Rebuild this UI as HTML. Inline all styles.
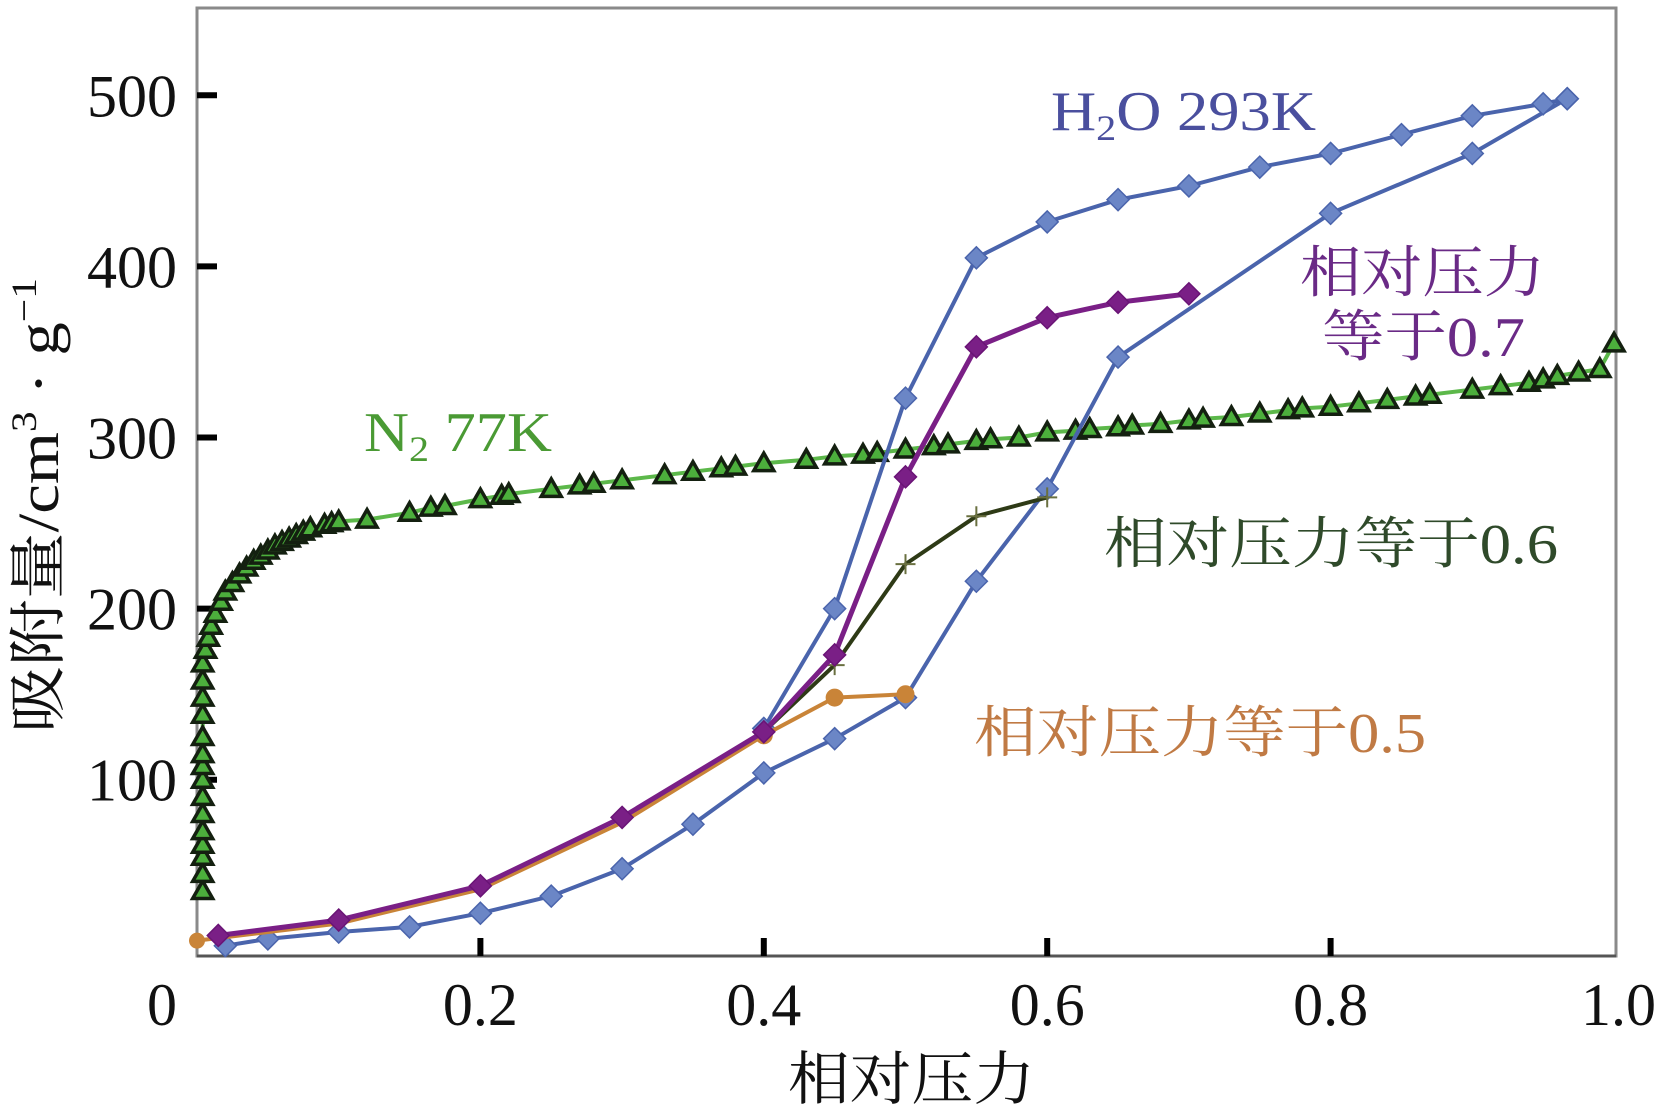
<!DOCTYPE html>
<html><head><meta charset="utf-8"><style>
html,body{margin:0;padding:0;background:#fff;}
svg{display:block;}
text{font-family:"Liberation Serif","Noto Serif CJK SC",serif;}
</style></head><body>
<svg id="chart" width="1656" height="1111" viewBox="0 0 1656 1111" xmlns="http://www.w3.org/2000/svg">
<g id="plot"></g>
</svg>
<script>
const xTicks=[0.2,0.4,0.6,0.8];
const xTickLabels=["0","0.2","0.4","0.6","0.8","1.0"];
const xLabelVals=[0,0.2,0.4,0.6,0.8,1.0];
const yTicks=[100,200,300,400,500];
const yTickLabels=["100","200","300","400","500"];
const h2oAdsX=[0.02,0.05,0.1,0.15,0.2,0.25,0.3,0.35,0.4,0.45,0.5,0.55,0.6,0.65,0.8,0.9,0.967];
const h2oAdsY=[3,7,11,14,22,32,48,74,104,124,148,216,270,347,431,466,498];
const h2oDesX=[0.967,0.95,0.9,0.85,0.8,0.75,0.7,0.65,0.6,0.55,0.5,0.45,0.4];
const h2oDesY=[498,495,488,477,466,458,447,439,426,405,323,200,130];
const p07X=[0.015,0.1,0.2,0.3,0.4,0.45,0.5,0.55,0.6,0.65,0.7];
const p07Y=[9,18,38,78,128,173,277,353,370,379,384];
const p06X=[0.4,0.45,0.5,0.55,0.6];
const p06Y=[128,167,226,254,265];
const p05X=[0.0,0.1,0.2,0.3,0.4,0.45,0.5];
const p05Y=[6,16,36,75,126,148,150];
const n2X=[0.004,0.004,0.004,0.004,0.004,0.004,0.004,0.004,0.004,0.004,0.004,0.004,0.004,0.004,0.004,0.006,0.008,0.01,0.013,0.017,0.02,0.025,0.03,0.035,0.04,0.045,0.05,0.055,0.06,0.065,0.07,0.075,0.08,0.09,0.095,0.1,0.12,0.15,0.165,0.175,0.2,0.215,0.22,0.25,0.27,0.28,0.3,0.33,0.35,0.37,0.38,0.4,0.43,0.45,0.47,0.48,0.5,0.52,0.53,0.55,0.56,0.58,0.6,0.62,0.63,0.65,0.66,0.68,0.7,0.71,0.73,0.75,0.77,0.78,0.8,0.82,0.84,0.86,0.87,0.9,0.92,0.94,0.95,0.96,0.975,0.99,1.0];
const n2Y=[35,45,55,62,70,80,90,100,108,115,125,138,148,158,168,176,183,190,197,204,210,215,220,224,228,231,234,237,239,241,243,245,247,249,250,251,252,256,259,260,264,266,267,270,272,273,275,278,280,282,283,285,287,289,290,291,293,295,296,298,299,300,303,304,305,306,307,308,310,311,312,314,316,317,318,320,322,324,325,328,330,332,334,336,338,340,355];

const X0=197,X1=1614,Y0=-3,Y1=551,PT=8,PB=956;
function sx(v){return X0+(X1-X0)*v;}
function sy(v){return PB-(v-Y0)/(Y1-Y0)*(PB-PT);}
const NS="http://www.w3.org/2000/svg";
const svg=document.getElementById('chart');
function mk(tag,attrs,parent){const e=document.createElementNS(NS,tag);for(const k in attrs)e.setAttribute(k,attrs[k]);(parent||svg).appendChild(e);return e;}

let fr=mk('rect',{x:X0,y:PT,width:X1+2-X0,height:PB-PT,fill:'none',stroke:'#8a8a8a','stroke-width':3});


let bx=mk('line',{x1:X0,y1:PB,x2:X1+2,y2:PB,stroke:'#555','stroke-width':3});



xTicks.forEach(v=>{const t=mk('line',{x1:sx(v),y1:PB,x2:sx(v),y2:PB-18,stroke:'#000','stroke-width':6});

});
yTicks.forEach(v=>{const t=mk('line',{x1:X0,y1:sy(v),x2:X0+20,y2:sy(v),stroke:'#000','stroke-width':6});

});
xLabelVals.forEach((v,i)=>{let anchor='middle',x=sx(v);if(i===0){x=162;}if(i===5){anchor='end';x=1656;}
const t=mk('text',{x:x,y:1025,'font-size':60,'text-anchor':anchor,fill:'#111'});t.textContent=xTickLabels[i];

});
yTicks.forEach((v,i)=>{const t=mk('text',{x:177,y:sy(v)+21,'font-size':60,'text-anchor':'end',fill:'#111'});t.textContent=yTickLabels[i];

});

function line(xs,ys,color,w,name){const d=xs.map((x,i)=>(i?'L':'M')+sx(x).toFixed(1)+' '+sy(ys[i]).toFixed(1)).join(' ');
const p=mk('path',{d:d,fill:'none',stroke:color,'stroke-width':w,'stroke-linejoin':'round'});

return p;}
function diamonds(xs,ys,fill,stroke,r,name){xs.forEach((x,i)=>{const cx=sx(x),cy=sy(ys[i]);
const p=mk('polygon',{points:`${cx},${cy-r} ${cx+r},${cy} ${cx},${cy+r} ${cx-r},${cy}`,fill:fill,stroke:stroke,'stroke-width':1.5});

});}
function circles(xs,ys,fill,r,name){xs.forEach((x,i)=>{const c=mk('circle',{cx:sx(x),cy:sy(ys[i]),r:r,fill:fill});

});}
function crosses(xs,ys,color,r,name){xs.forEach((x,i)=>{const cx=sx(x),cy=sy(ys[i]);
const p=mk('path',{d:`M${cx-r} ${cy}L${cx+r} ${cy}M${cx} ${cy-r}L${cx} ${cy+r}`,stroke:color,'stroke-width':2});

});}
function triangles(xs,ys,name){xs.forEach((x,i)=>{const cx=sx(x),cy=sy(ys[i]),r=10;
const p=mk('polygon',{points:`${cx},${cy-r} ${cx+r},${cy+r*0.75} ${cx-r},${cy+r*0.75}`,fill:'#4caf3c',stroke:'#142010','stroke-width':3.5});

});}

line(n2X,n2Y,'#5cb84a',4,'n2-line');
triangles(n2X,n2Y,'n2-point');
line(h2oAdsX,h2oAdsY,'#4a64ac',4,'h2o-adsorption-line');
line(h2oDesX,h2oDesY,'#4a64ac',4,'h2o-desorption-line');
diamonds(h2oAdsX,h2oAdsY,'#6b86c6','#4a64ac',11,'h2o-adsorption-point');
diamonds(h2oDesX,h2oDesY,'#6b86c6','#4a64ac',11,'h2o-desorption-point');
line(p05X,p05Y,'#c98438',4,'p05-line');
circles(p05X.slice(4),p05Y.slice(4),'#c98438',9,'p05-point');
circles([p05X[0]],[p05Y[0]],'#c98438',8,'p05-point');
line(p06X,p06Y,'#2e3a16',4,'p06-line');
crosses(p06X,p06Y,'#6a7040',10,'p06-point');
line(p07X,p07Y,'#7a1f86',5,'p07-line');
diamonds(p07X,p07Y,'#7a1f86','#6a1476',11,'p07-point');

function label(txt,x,y,w,color,name,fs){const t=mk('text',{x:x,y:y,'font-size':fs||56,fill:color,textLength:w,lengthAdjust:'spacingAndGlyphs'});t.textContent=txt;

return t;}
const h=mk('text',{x:1051,y:130,'font-size':56,fill:'#4a4f9e',textLength:265,lengthAdjust:'spacingAndGlyphs'});


h.innerHTML='H<tspan font-size="36" dy="10">2</tspan><tspan dy="-10">O 293K</tspan>';
const n=mk('text',{x:364,y:451,'font-size':56,fill:'#4a9a34',textLength:188,lengthAdjust:'spacingAndGlyphs'});


n.innerHTML='N<tspan font-size="36" dy="10">2</tspan><tspan dy="-10"> 77K</tspan>';
label('相对压力',1300,292,245,'#6a2a86','p07-label-line1');
label('等于0.7',1322,356,203,'#6a2a86','p07-label-line2');
label('相对压力等于0.6',1104,563,454,'#2f4a2a','p06-label');
label('相对压力等于0.5',974,752,452,'#c07a44','p05-label');
label('相对压力',788,1099,247,'#111','x-axis-title',58);
const yt=mk('text',{x:0,y:0,'font-size':58,fill:'#111',textLength:455,lengthAdjust:'spacingAndGlyphs',transform:'translate(58,733) rotate(-90)'});


yt.innerHTML='吸附量/cm<tspan font-size="36" dy="-22">3</tspan><tspan dy="22"> · g</tspan><tspan font-size="36" dy="-22">−1</tspan>';
</script>
</body></html>
